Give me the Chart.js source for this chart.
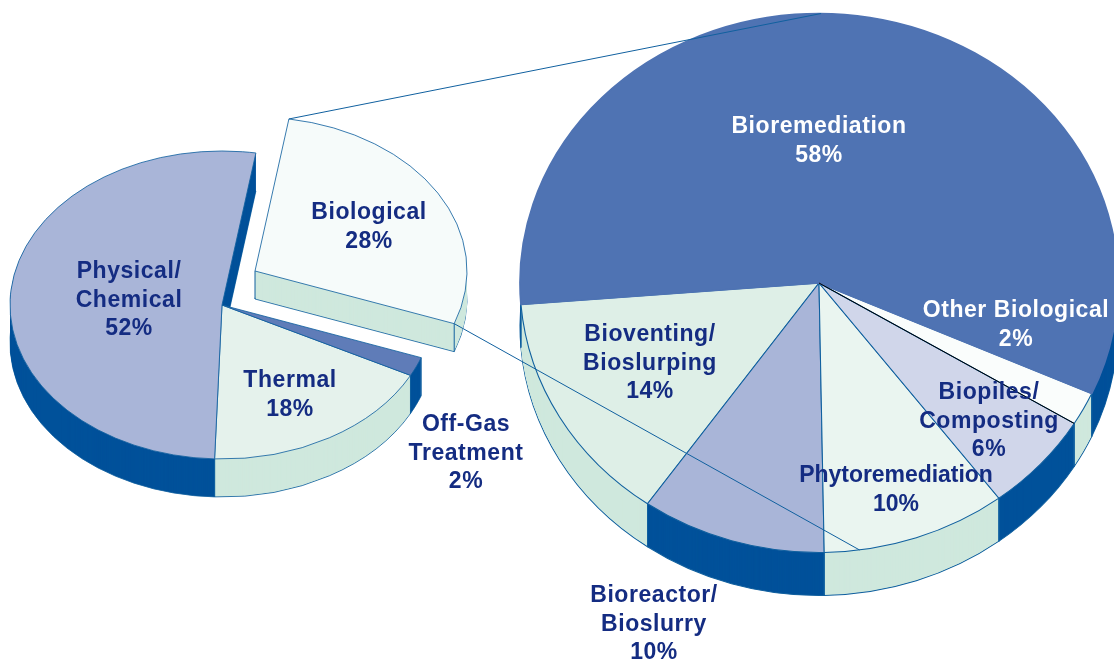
<!DOCTYPE html>
<html lang="en">

<head>
    <script src="https://cdn.jsdelivr.net/npm/chart.js"></script>
    <meta charset="UTF-8">
    <title>Remediation Technologies</title>
    <style>
        body {
            margin: 0;
            background: #ffffff;
        }

        canvas {
            position: absolute;
            left: 0;
            top: 0;
        }
    </style>
</head>

<body>
    <canvas id="mainPie" width="1114" height="660"></canvas>
    <canvas id="detailPie" width="1114" height="660"></canvas>

    <script>
        // chart values
        const mainNames = [['Physical/', 'Chemical'], ['Biological'], ['Off-Gas', 'Treatment'], ['Thermal']];
        const mainValues = [52, 28, 2, 18];
        const detailNames = [['Bioremediation'], ['Other Biological'], ['Biopiles/', 'Composting'], ['Phytoremediation'], ['Bioreactor/', 'Bioslurry'], ['Bioventing/', 'Bioslurping']];
        const detailValues = [58, 2, 6, 10, 10, 14];

        // slice styles
        const edgeBlue = '#10609f';
        const mainTops = ['#a9b5d8', '#f6fbfa', '#5f7cb8', '#e5f2ec'];
        const mainSides = ['#00519a', '#cfe8dd', '#00519a', '#cfe8dd'];
        const detailTops = ['#4f73b3', '#fafdfc', '#d0d6ea', '#eaf5f0', '#a9b5d8', '#deefe7'];
        const detailSides = ['#00519a', '#cfe8dd', '#00519a', '#cfe8dd', '#00519a', '#cfe8dd'];

        // layout of the two tilted discs
        const mainLayout = {
            rx: 212, ry: 154, rotation: 182,
            padding: { left: 0, right: 670, top: 0, bottom: 50 },
            depths: [38, 28, 38, 38],
            shifts: [[0, 0], [33, -34], [0, 0], [0, 0]],
            labelX: [129, 369, 466, 290],
            labelY: [272, 213, 425, 381],
            labelSpacing: [0.55, 0.55, 0.55, 0.55],
            labelColors: ['#142c82', '#142c82', '#142c82', '#142c82']
        };
        const detailLayout = {
            rx: 299, ry: 269.5, rotation: 265.4,
            padding: { left: 524, right: 0, top: 0, bottom: 94 },
            depths: [43, 43, 43, 43, 43, 43],
            shifts: [[0, 0], [0, 0], [0, 0], [0, 0], [0, 0], [0, 0]],
            labelX: [819, 1016, 989, 896, 654, 650],
            labelY: [127, 311, 393, 476, 596, 335],
            labelSpacing: [0.55, 0.55, 0.55, -0.05, 0.55, 0.55],
            labelColors: ['#ffffff', '#ffffff', '#142c82', '#142c82', '#142c82', '#142c82']
        };

        function arcStyle(fill, stroke, width) {
            return {
                backgroundColor: fill, borderColor: stroke, borderWidth: width,
                borderAlign: 'center', borderDash: [], borderDashOffset: 0,
                borderJoinStyle: 'round', borderRadius: 0, circular: true,
                offset: 0, spacing: 0, selfJoin: false
            };
        }

        // draws one library arc element squeezed into the ellipse
        function drawArc(ctx, arc, layout, i, dy, style) {
            const sx = layout.rx / arc.outerRadius;
            const sy = layout.ry / arc.outerRadius;
            const saved = arc.options;
            ctx.save();
            ctx.translate(arc.x + layout.shifts[i][0], arc.y + layout.shifts[i][1] + dy);
            ctx.scale(sx, sy);
            ctx.translate(-arc.x, -arc.y);
            arc.options = style;
            arc.draw(ctx);
            arc.options = saved;
            ctx.restore();
        }

        function rimPoint(arc, layout, i, angle) {
            return {
                x: arc.x + layout.shifts[i][0] + layout.rx * Math.cos(angle),
                y: arc.y + layout.shifts[i][1] + layout.ry * Math.sin(angle)
            };
        }

        function strokeLine(ctx, x1, y1, x2, y2, color) {
            ctx.save();
            ctx.strokeStyle = color;
            ctx.lineWidth = 1;
            ctx.beginPath();
            ctx.moveTo(x1, y1);
            ctx.lineTo(x2, y2);
            ctx.stroke();
            ctx.restore();
        }

        function drawLabels(ctx, names, values, layout) {
            ctx.save();
            ctx.font = 'bold 23px "Liberation Sans", Arial, sans-serif';
            ctx.textAlign = 'center';
            ctx.textBaseline = 'middle';
            names.forEach((name, i) => {
                ctx.fillStyle = layout.labelColors[i];
                ctx.letterSpacing = layout.labelSpacing[i] + 'px';
                name.concat(values[i] + '%').forEach((line, n) => {
                    ctx.fillText(line, layout.labelX[i], layout.labelY[i] + n * 28.5);
                });
            });
            ctx.restore();
        }

        function discPlugin(layout, tops, sides, noEdge) {
            return {
                id: 'disc',
                beforeDatasetsDraw(chart) {
                    const ctx = chart.ctx;
                    const arcs = chart.getDatasetMeta(0).data;
                    const maxDepth = Math.max(...layout.depths);

                    // side walls, deepest layer first
                    for (let d = maxDepth; d >= 1; d--) {
                        arcs.forEach((arc, i) => {
                            if (d > layout.depths[i]) return;
                            const atBottom = d === layout.depths[i];
                            drawArc(ctx, arc, layout, i, d, arcStyle(sides[i], edgeBlue, atBottom ? 1 : 0));
                        });
                    }

                    // vertical edges of the walls
                    arcs.forEach((arc, i) => {
                        [arc.startAngle, arc.endAngle].forEach(angle => {
                            if (Math.sin(angle) < 0) return;
                            const p = rimPoint(arc, layout, i, angle);
                            strokeLine(ctx, p.x, p.y, p.x, p.y + layout.depths[i], edgeBlue);
                        });
                        const sx = arc.x + layout.shifts[i][0];
                        const sy = arc.y + layout.shifts[i][1];
                        if (layout.shifts[i][0] !== 0) {
                            strokeLine(ctx, sx, sy, sx, sy + layout.depths[i], edgeBlue);
                        }
                    });

                    // top faces, reversed so the first slice ends up above its neighbours
                    for (let i = arcs.length - 1; i >= 0; i--) {
                        const noLine = noEdge.includes(i);
                        drawArc(ctx, arcs[i], layout, i, 0, arcStyle(tops[i], noLine ? tops[i] : edgeBlue, noLine ? 1.6 : 1));
                    }
                    return false;
                }
            };
        }

        function pieConfig(values, tops, layout, plugin) {
            return {
                type: 'pie',
                data: {
                    datasets: [{ data: values, backgroundColor: tops, borderWidth: 0 }]
                },
                options: {
                    responsive: false,
                    animation: false,
                    rotation: layout.rotation,
                    layout: { padding: layout.padding },
                    plugins: { legend: { display: false }, tooltip: { enabled: false } }
                },
                plugins: [plugin]
            };
        }

        const mainChart = new Chart(document.getElementById('mainPie').getContext('2d'), pieConfig(
            mainValues, mainTops, mainLayout,
            Object.assign(discPlugin(mainLayout, mainTops, mainSides, []), {
                afterDraw(chart) {
                    drawLabels(chart.ctx, mainNames, mainValues, mainLayout);
                }
            })
        ));

        // where the two guide lines land on the detail disc, degrees clockwise from the top
        const guideEndAngles = [0.4, 172.2];

        new Chart(document.getElementById('detailPie').getContext('2d'), pieConfig(
            detailValues, detailTops, detailLayout,
            Object.assign(discPlugin(detailLayout, detailTops, detailSides, [0]), {
                afterDraw(chart) {
                    const ctx = chart.ctx;
                    const arcs = chart.getDatasetMeta(0).data;

                    // black edge between Other Biological and Biopiles
                    const black = rimPoint(arcs[2], detailLayout, 2, arcs[2].startAngle);
                    strokeLine(ctx, arcs[2].x, arcs[2].y, black.x, black.y, '#000000');

                    // guide lines from the exploded Biological slice
                    const bio = mainChart.getDatasetMeta(0).data[1];
                    [bio.startAngle, bio.endAngle].forEach((angle, n) => {
                        const from = rimPoint(bio, mainLayout, 1, angle);
                        const to = rimPoint(arcs[0], detailLayout, 0, (guideEndAngles[n] - 90) * Math.PI / 180);
                        strokeLine(ctx, from.x, from.y, to.x, to.y, edgeBlue);
                    });

                    drawLabels(ctx, detailNames, detailValues, detailLayout);
                }
            })
        ));
    </script>
</body>

</html>
